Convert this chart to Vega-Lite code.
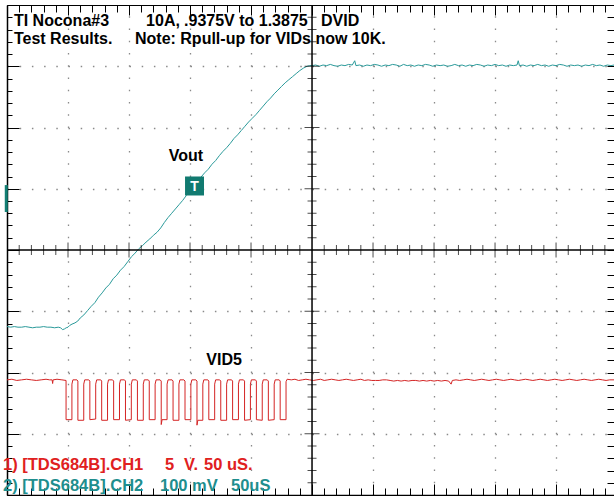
{
"$schema": "https://vega.github.io/schema/vega-lite/v6.json",
"width": 607, "height": 490,
"autosize": {"type": "none"},
"padding": {"left": 7, "top": 5, "right": 0, "bottom": 1},
"background": "white",
"config": {"view": {"stroke": null}, "axis": {"labels": false, "title": null}, "text": {"font": "Liberation Sans", "fontWeight": "bold", "fontSize": 16, "align": "left", "baseline": "alphabetic", "color": "#000"}},
"data": {"values": [{}]},
"datasets": {
"vout": [{"t":-250,"v":-1.25},{"t":-247,"v":-1.26},{"t":-244,"v":-1.25},{"t":-241,"v":-1.26},{"t":-238,"v":-1.26},{"t":-235,"v":-1.25},{"t":-232,"v":-1.26},{"t":-229,"v":-1.27},{"t":-226,"v":-1.26},{"t":-223,"v":-1.26},{"t":-220,"v":-1.25},{"t":-217,"v":-1.26},{"t":-214,"v":-1.26},{"t":-211,"v":-1.27},{"t":-208,"v":-1.26},{"t":-206,"v":-1.27},{"t":-204.5,"v":-1.3},{"t":-203,"v":-1.29},{"t":-201.5,"v":-1.27},{"t":-200,"v":-1.26},{"t":-198.5,"v":-1.23},{"t":-196.7,"v":-1.21},{"t":-194.3,"v":-1.19},{"t":-192,"v":-1.16},{"t":-190,"v":-1.11},{"t":-187,"v":-1.06},{"t":-184,"v":-0.99},{"t":-181,"v":-0.92},{"t":-178,"v":-0.86},{"t":-175,"v":-0.77},{"t":-172,"v":-0.7},{"t":-169,"v":-0.62},{"t":-166,"v":-0.56},{"t":-163,"v":-0.47},{"t":-160,"v":-0.41},{"t":-157,"v":-0.33},{"t":-154,"v":-0.27},{"t":-151,"v":-0.19},{"t":-148,"v":-0.11},{"t":-145,"v":-0.05},{"t":-142,"v":0.02},{"t":-139,"v":0.07},{"t":-136,"v":0.13},{"t":-133,"v":0.18},{"t":-130,"v":0.24},{"t":-127,"v":0.29},{"t":-124,"v":0.36},{"t":-121,"v":0.45},{"t":-118,"v":0.53},{"t":-115,"v":0.6},{"t":-112,"v":0.67},{"t":-109,"v":0.74},{"t":-106,"v":0.81},{"t":-103,"v":0.89},{"t":-100,"v":0.97},{"t":-97,"v":1.03},{"t":-94,"v":1.11},{"t":-91,"v":1.19},{"t":-88,"v":1.26},{"t":-85,"v":1.32},{"t":-82,"v":1.4},{"t":-79,"v":1.46},{"t":-76,"v":1.54},{"t":-73,"v":1.61},{"t":-70,"v":1.67},{"t":-67,"v":1.74},{"t":-64,"v":1.82},{"t":-61,"v":1.88},{"t":-58,"v":1.95},{"t":-55,"v":2.02},{"t":-52,"v":2.09},{"t":-49,"v":2.15},{"t":-46,"v":2.21},{"t":-43,"v":2.28},{"t":-40,"v":2.35},{"t":-37,"v":2.42},{"t":-34,"v":2.48},{"t":-31,"v":2.55},{"t":-28,"v":2.61},{"t":-25,"v":2.67},{"t":-22,"v":2.73},{"t":-19,"v":2.78},{"t":-16,"v":2.83},{"t":-13,"v":2.88},{"t":-10,"v":2.93},{"t":-7,"v":2.97},{"t":-4,"v":3.0},{"t":-2,"v":3.01},{"t":0,"v":3.01},{"t":3,"v":3.02},{"t":6,"v":3.0},{"t":9,"v":3.02},{"t":12,"v":3.01},{"t":15,"v":3.03},{"t":18,"v":3.01},{"t":21,"v":3.0},{"t":24,"v":3.02},{"t":27,"v":3.01},{"t":30,"v":3.03},{"t":33,"v":3.02},{"t":35,"v":3.09},{"t":36,"v":3.01},{"t":39,"v":3.02},{"t":42,"v":3.0},{"t":45,"v":3.02},{"t":48,"v":3.01},{"t":51,"v":3.03},{"t":54,"v":3.02},{"t":57,"v":3.0},{"t":60,"v":3.02},{"t":63,"v":3.01},{"t":66,"v":3.03},{"t":69,"v":3.02},{"t":72,"v":3.0},{"t":75,"v":3.03},{"t":78,"v":3.01},{"t":81,"v":3.02},{"t":84,"v":3.0},{"t":87,"v":3.02},{"t":90,"v":3.01},{"t":93,"v":3.03},{"t":96,"v":3.02},{"t":99,"v":3.0},{"t":102,"v":3.02},{"t":105,"v":3.01},{"t":108,"v":3.02},{"t":111,"v":3.0},{"t":114,"v":3.01},{"t":117,"v":3.03},{"t":120,"v":3.01},{"t":123,"v":3.02},{"t":126,"v":3.0},{"t":129,"v":3.02},{"t":132,"v":3.01},{"t":135,"v":3.03},{"t":138,"v":3.02},{"t":141,"v":3.0},{"t":144,"v":3.02},{"t":147,"v":3.01},{"t":150,"v":3.03},{"t":153,"v":3.01},{"t":156,"v":3.02},{"t":159,"v":3.0},{"t":162,"v":3.02},{"t":165,"v":3.01},{"t":168,"v":3.02},{"t":169,"v":3.09},{"t":170,"v":3.01},{"t":173,"v":3.02},{"t":176,"v":3.0},{"t":179,"v":3.02},{"t":182,"v":3.01},{"t":185,"v":3.03},{"t":188,"v":3.01},{"t":191,"v":3.02},{"t":194,"v":3.0},{"t":197,"v":3.02},{"t":200,"v":3.01},{"t":203,"v":3.03},{"t":206,"v":3.02},{"t":209,"v":3.0},{"t":212,"v":3.02},{"t":215,"v":3.01},{"t":218,"v":3.02},{"t":221,"v":3.0},{"t":224,"v":3.02},{"t":227,"v":3.01},{"t":230,"v":3.03},{"t":233,"v":3.01},{"t":236,"v":3.02},{"t":239,"v":3.0},{"t":242,"v":3.02},{"t":245,"v":3.01},{"t":247.5,"v":3.02}],
"vid": [{"t":-250,"v":-2.12},{"t":-246,"v":-2.11},{"t":-242,"v":-2.13},{"t":-238,"v":-2.12},{"t":-234,"v":-2.11},{"t":-230,"v":-2.12},{"t":-226,"v":-2.13},{"t":-222,"v":-2.12},{"t":-218,"v":-2.11},{"t":-215,"v":-2.12},{"t":-213,"v":-2.12},{"t":-212.6,"v":-2.18},{"t":-212.2,"v":-2.12},{"t":-209,"v":-2.11},{"t":-205,"v":-2.12},{"t":-201.6,"v":-2.13},
{"t":-201.6,"v":-2.77},{"t":-196.8,"v":-2.77},{"t":-196.8,"v":-2.19},{"t":-196.0,"v":-2.12},{"t":-192.7,"v":-2.12},
{"t":-191.9,"v":-2.14},{"t":-191.9,"v":-2.78},{"t":-187.1,"v":-2.78},{"t":-187.1,"v":-2.19},{"t":-186.3,"v":-2.12},{"t":-183.0,"v":-2.12},
{"t":-182.1,"v":-2.14},{"t":-182.1,"v":-2.77},{"t":-177.3,"v":-2.76},{"t":-177.3,"v":-2.19},{"t":-176.5,"v":-2.12},{"t":-173.2,"v":-2.12},
{"t":-172.4,"v":-2.14},{"t":-172.4,"v":-2.78},{"t":-167.6,"v":-2.78},{"t":-167.6,"v":-2.19},{"t":-166.8,"v":-2.12},{"t":-163.5,"v":-2.12},
{"t":-162.6,"v":-2.14},{"t":-162.6,"v":-2.77},{"t":-157.8,"v":-2.77},{"t":-157.8,"v":-2.19},{"t":-157.0,"v":-2.12},{"t":-153.7,"v":-2.12},
{"t":-152.9,"v":-2.14},{"t":-152.9,"v":-2.78},{"t":-148.1,"v":-2.77},{"t":-148.1,"v":-2.19},{"t":-147.3,"v":-2.12},{"t":-144.0,"v":-2.12},
{"t":-143.1,"v":-2.14},{"t":-143.1,"v":-2.78},{"t":-138.3,"v":-2.78},{"t":-138.3,"v":-2.19},{"t":-137.5,"v":-2.12},{"t":-134.2,"v":-2.12},
{"t":-133.4,"v":-2.14},{"t":-133.4,"v":-2.77},{"t":-128.6,"v":-2.77},{"t":-128.6,"v":-2.19},{"t":-127.8,"v":-2.12},{"t":-124.5,"v":-2.12},
{"t":-123.6,"v":-2.14},{"t":-123.6,"v":-2.85},{"t":-122.9,"v":-2.77},{"t":-118.8,"v":-2.77},{"t":-118.8,"v":-2.19},{"t":-118.0,"v":-2.12},{"t":-114.7,"v":-2.12},
{"t":-113.9,"v":-2.14},{"t":-113.9,"v":-2.78},{"t":-109.1,"v":-2.78},{"t":-109.1,"v":-2.19},{"t":-108.3,"v":-2.12},{"t":-105.0,"v":-2.12},
{"t":-104.1,"v":-2.14},{"t":-104.1,"v":-2.77},{"t":-99.3,"v":-2.77},{"t":-99.3,"v":-2.19},{"t":-98.5,"v":-2.12},{"t":-95.2,"v":-2.12},
{"t":-94.3,"v":-2.14},{"t":-94.3,"v":-2.86},{"t":-93.6,"v":-2.78},{"t":-89.5,"v":-2.78},{"t":-89.5,"v":-2.19},{"t":-88.7,"v":-2.12},{"t":-85.4,"v":-2.12},
{"t":-84.6,"v":-2.14},{"t":-84.6,"v":-2.77},{"t":-79.8,"v":-2.77},{"t":-79.8,"v":-2.19},{"t":-79.0,"v":-2.12},{"t":-75.7,"v":-2.12},
{"t":-74.8,"v":-2.14},{"t":-74.8,"v":-2.78},{"t":-70.0,"v":-2.78},{"t":-70.0,"v":-2.19},{"t":-69.2,"v":-2.12},{"t":-65.9,"v":-2.12},
{"t":-65.1,"v":-2.14},{"t":-65.1,"v":-2.77},{"t":-60.3,"v":-2.77},{"t":-60.3,"v":-2.19},{"t":-59.5,"v":-2.12},{"t":-56.2,"v":-2.12},
{"t":-55.3,"v":-2.14},{"t":-55.3,"v":-2.78},{"t":-50.5,"v":-2.77},{"t":-50.5,"v":-2.19},{"t":-49.7,"v":-2.12},{"t":-46.4,"v":-2.12},
{"t":-45.6,"v":-2.14},{"t":-45.6,"v":-2.77},{"t":-40.8,"v":-2.78},{"t":-40.8,"v":-2.19},{"t":-40.0,"v":-2.12},{"t":-36.7,"v":-2.12},
{"t":-35.8,"v":-2.14},{"t":-35.8,"v":-2.78},{"t":-31.0,"v":-2.77},{"t":-31.0,"v":-2.19},{"t":-30.2,"v":-2.12},{"t":-26.9,"v":-2.12},
{"t":-26.1,"v":-2.14},{"t":-26.1,"v":-2.77},{"t":-21.3,"v":-2.77},{"t":-21.3,"v":-2.15},
{"t":-20.4,"v":-2.11},{"t":-17,"v":-2.12},{"t":-14,"v":-2.11},{"t":-11,"v":-2.13},{"t":-8,"v":-2.12},{"t":-5,"v":-2.11},{"t":-2,"v":-2.12},{"t":1,"v":-2.13},{"t":4,"v":-2.12},{"t":7,"v":-2.11},{"t":10,"v":-2.13},{"t":13,"v":-2.12},{"t":16,"v":-2.11},{"t":19,"v":-2.12},{"t":22,"v":-2.13},{"t":25,"v":-2.12},{"t":28,"v":-2.11},{"t":31,"v":-2.12},{"t":34,"v":-2.13},{"t":37,"v":-2.12},{"t":40,"v":-2.11},{"t":43,"v":-2.13},{"t":46,"v":-2.12},{"t":49,"v":-2.13},{"t":52,"v":-2.13},{"t":55,"v":-2.13},{"t":58,"v":-2.12},{"t":61,"v":-2.12},{"t":64,"v":-2.13},{"t":67,"v":-2.14},{"t":70,"v":-2.13},{"t":73,"v":-2.14},{"t":76,"v":-2.13},{"t":79,"v":-2.14},{"t":82,"v":-2.13},{"t":85,"v":-2.13},{"t":88,"v":-2.14},{"t":91,"v":-2.13},{"t":94,"v":-2.14},{"t":97,"v":-2.13},{"t":100,"v":-2.14},{"t":103,"v":-2.13},{"t":106,"v":-2.14},{"t":109,"v":-2.13},{"t":112,"v":-2.14},{"t":114,"v":-2.19},{"t":115,"v":-2.13},{"t":118,"v":-2.12},{"t":121,"v":-2.13},{"t":124,"v":-2.12},{"t":127,"v":-2.11},{"t":130,"v":-2.12},{"t":133,"v":-2.13},{"t":136,"v":-2.12},{"t":139,"v":-2.11},{"t":142,"v":-2.12},{"t":145,"v":-2.13},{"t":148,"v":-2.12},{"t":151,"v":-2.11},{"t":154,"v":-2.12},{"t":157,"v":-2.13},{"t":160,"v":-2.12},{"t":163,"v":-2.11},{"t":166,"v":-2.12},{"t":169,"v":-2.13},{"t":172,"v":-2.12},{"t":175,"v":-2.11},{"t":178,"v":-2.12},{"t":181,"v":-2.13},{"t":184,"v":-2.12},{"t":187,"v":-2.11},{"t":190,"v":-2.12},{"t":193,"v":-2.13},{"t":196,"v":-2.12},{"t":199,"v":-2.11},{"t":202,"v":-2.12},{"t":205,"v":-2.13},{"t":208,"v":-2.12},{"t":211,"v":-2.11},{"t":214,"v":-2.12},{"t":217,"v":-2.13},{"t":220,"v":-2.12},{"t":223,"v":-2.11},{"t":226,"v":-2.12},{"t":229,"v":-2.13},{"t":232,"v":-2.12},{"t":235,"v":-2.11},{"t":238,"v":-2.12},{"t":241,"v":-2.13},{"t":244,"v":-2.12},{"t":247.5,"v":-2.12}],
"hticks": [{"t":-240},{"t":-230},{"t":-220},{"t":-210},{"t":-200},{"t":-190},{"t":-180},{"t":-170},{"t":-160},{"t":-150},{"t":-140},{"t":-130},{"t":-120},{"t":-110},{"t":-100},{"t":-90},{"t":-80},{"t":-70},{"t":-60},{"t":-50},{"t":-40},{"t":-30},{"t":-20},{"t":-10},{"t":10},{"t":20},{"t":30},{"t":40},{"t":50},{"t":60},{"t":70},{"t":80},{"t":90},{"t":100},{"t":110},{"t":120},{"t":130},{"t":140},{"t":150},{"t":160},{"t":170},{"t":180},{"t":190},{"t":200},{"t":210},{"t":220},{"t":230},{"t":240}],
"vticks": [{"v":-3.8},{"v":-3.6},{"v":-3.4},{"v":-3.2},{"v":-3},{"v":-2.8},{"v":-2.6},{"v":-2.4},{"v":-2.2},{"v":-2},{"v":-1.8},{"v":-1.6},{"v":-1.4},{"v":-1.2},{"v":-1},{"v":-0.8},{"v":-0.6},{"v":-0.4},{"v":-0.2},{"v":0.2},{"v":0.4},{"v":0.6},{"v":0.8},{"v":1},{"v":1.2},{"v":1.4},{"v":1.6},{"v":1.8},{"v":2},{"v":2.2},{"v":2.4},{"v":2.6},{"v":2.8},{"v":3},{"v":3.2},{"v":3.4},{"v":3.6},{"v":3.8}]
},
"resolve": {"axis": {"x": "independent", "y": "independent"}},
"layer": [
{"data": {"name": "vout"},
 "mark": {"type": "line", "color": "#2a9a9a", "strokeWidth": 1, "clip": true},
 "encoding": {
  "x": {"field": "t", "type": "quantitative", "scale": {"domain": [-250, 247.5], "nice": false, "zero": false},
    "axis": {"orient": "top", "values": [-250,-240,-230,-220,-210,-200,-190,-180,-170,-160,-150,-140,-130,-120,-110,-100,-90,-80,-70,-60,-50,-40,-30,-20,-10,0,10,20,30,40,50,60,70,80,90,100,110,120,130,140,150,160,170,180,190,200,210,220,230,240],
      "labels": false, "title": null, "domain": true, "domainColor": "#000", "domainWidth": 1, "tickColor": "#000", "tickWidth": 1,
      "tickSize": {"condition": {"test": "datum.value % 50 === 0", "value": -10}, "value": -7},
      "grid": true, "gridColor": "#8a8a8a", "gridWidth": 1.3, "gridDash": [1.5, 10.75],
      "gridOpacity": {"condition": {"test": "datum.value % 50 === 0 && datum.value !== 0 && datum.value !== -250", "value": 1}, "value": 0}}},
  "y": {"field": "v", "type": "quantitative", "scale": {"domain": [-4, 4], "nice": false, "zero": false},
    "axis": {"orient": "left", "values": [-4,-3.8,-3.6,-3.4,-3.2,-3,-2.8,-2.6,-2.4,-2.2,-2,-1.8,-1.6,-1.4,-1.2,-1,-0.8,-0.6,-0.4,-0.2,0,0.2,0.4,0.6,0.8,1,1.2,1.4,1.6,1.8,2,2.2,2.4,2.6,2.8,3,3.2,3.4,3.6,3.8,4],
      "labels": false, "title": null, "domain": true, "domainColor": "#000", "domainWidth": 1.5, "tickColor": "#000", "tickWidth": 1,
      "tickSize": {"condition": {"test": "abs(datum.value - round(datum.value)) < 0.01", "value": -12}, "value": -5},
      "grid": true, "gridColor": "#8a8a8a", "gridWidth": 1.3, "gridDash": [1.5, 10.7],
      "gridOpacity": {"condition": {"test": "abs(datum.value - round(datum.value)) < 0.01 && datum.value !== 0 && abs(datum.value) < 3.9", "value": 1}, "value": 0}}},
  "order": {"value": null}
 }},
{"data": {"name": "vid"},
 "mark": {"type": "line", "color": "#d42424", "strokeWidth": 1, "clip": true},
 "encoding": {
  "x": {"field": "t", "type": "quantitative",
    "axis": {"orient": "bottom", "values": [-250,-240,-230,-220,-210,-200,-190,-180,-170,-160,-150,-140,-130,-120,-110,-100,-90,-80,-70,-60,-50,-40,-30,-20,-10,0,10,20,30,40,50,60,70,80,90,100,110,120,130,140,150,160,170,180,190,200,210,220,230,240],
      "labels": false, "title": null, "domain": true, "domainColor": "#000", "domainWidth": 1.5, "tickColor": "#000", "tickWidth": 1, "grid": false,
      "tickSize": {"condition": {"test": "datum.value % 50 === 0", "value": -11}, "value": -7}}},
  "y": {"field": "v", "type": "quantitative",
    "axis": {"orient": "right", "values": [-3.8,-3.6,-3.4,-3.2,-3,-2.8,-2.6,-2.4,-2.2,-2,-1.8,-1.6,-1.4,-1.2,-1,-0.8,-0.6,-0.4,-0.2,0,0.2,0.4,0.6,0.8,1,1.2,1.4,1.6,1.8,2,2.2,2.4,2.6,2.8,3,3.2,3.4,3.6,3.8],
      "labels": false, "title": null, "domain": false, "tickColor": "#000", "tickWidth": 1, "grid": false, "tickSize": -7}},
  "order": {"value": null}
 }},
{"mark": {"type": "rule", "color": "#000", "strokeWidth": 1.5},
 "encoding": {"x": {"datum": 0, "type": "quantitative", "axis": null}}},
{"mark": {"type": "rule", "color": "#000", "strokeWidth": 1.5},
 "encoding": {"y": {"datum": 0, "type": "quantitative", "axis": null}}},
{"data": {"name": "hticks"},
 "mark": {"type": "tick", "orient": "vertical", "color": "#000", "thickness": 1},
 "encoding": {"x": {"field": "t", "type": "quantitative", "axis": null},
   "y": {"datum": 0, "type": "quantitative", "axis": null},
   "size": {"condition": {"test": "datum.t % 50 === 0", "value": 15}, "value": 10}}},
{"data": {"name": "vticks"},
 "mark": {"type": "tick", "orient": "horizontal", "color": "#000", "thickness": 1},
 "encoding": {"y": {"field": "v", "type": "quantitative", "axis": null},
   "x": {"datum": 0, "type": "quantitative", "axis": null},
   "size": {"condition": {"test": "abs(datum.v - round(datum.v)) < 0.01", "value": 15}, "value": 9}}},
{"mark": {"type": "rule", "color": "#137f74", "strokeWidth": 3},
 "encoding": {"x": {"datum": -250.6, "type": "quantitative", "axis": null},
   "y": {"datum": 0.62, "type": "quantitative", "axis": null}, "y2": {"datum": 1.06}}},
{"mark": {"type": "point", "shape": "square", "filled": true, "size": 361, "color": "#117a70", "opacity": 1},
 "encoding": {"x": {"datum": -96.3, "type": "quantitative", "axis": null}, "y": {"datum": 1.045, "type": "quantitative", "axis": null}}},
{"mark": {"type": "text", "text": "T", "fontSize": 14, "color": "#ffffff", "align": "center", "baseline": "middle", "dy": 1},
 "encoding": {"x": {"datum": -96.3, "type": "quantitative", "axis": null}, "y": {"datum": 1.045, "type": "quantitative", "axis": null}}},
{"mark": {"type": "text", "text": "TI Nocona#3"},
 "encoding": {"x": {"datum": -244.3, "type": "quantitative", "axis": null}, "y": {"datum": 3.657, "type": "quantitative", "axis": null}}},
{"mark": {"type": "text", "text": "10A,"},
 "encoding": {"x": {"datum": -136.0, "type": "quantitative", "axis": null}, "y": {"datum": 3.657, "type": "quantitative", "axis": null}}},
{"mark": {"type": "text", "text": ".9375V to 1.3875"},
 "encoding": {"x": {"datum": -104.9, "type": "quantitative", "axis": null}, "y": {"datum": 3.657, "type": "quantitative", "axis": null}}},
{"mark": {"type": "text", "text": "DVID"},
 "encoding": {"x": {"datum": 7.4, "type": "quantitative", "axis": null}, "y": {"datum": 3.657, "type": "quantitative", "axis": null}}},
{"mark": {"type": "text", "text": "Test Results."},
 "encoding": {"x": {"datum": -244.3, "type": "quantitative", "axis": null}, "y": {"datum": 3.363, "type": "quantitative", "axis": null}}},
{"mark": {"type": "text", "text": "Note: Rpull-up for VIDs now 10K."},
 "encoding": {"x": {"datum": -145.1, "type": "quantitative", "axis": null}, "y": {"datum": 3.363, "type": "quantitative", "axis": null}}},
{"mark": {"type": "text", "text": "Vout", "align": "center"},
 "encoding": {"x": {"datum": -103.3, "type": "quantitative", "axis": null}, "y": {"datum": 1.453, "type": "quantitative", "axis": null}}},
{"mark": {"type": "text", "text": "VID5", "align": "center"},
 "encoding": {"x": {"datum": -72.1, "type": "quantitative", "axis": null}, "y": {"datum": -1.878, "type": "quantitative", "axis": null}}},
{"mark": {"type": "text", "text": "1) [TDS684B].CH1", "color": "#e02020", "fontSize": 16.5},
 "encoding": {"x": {"datum": -253.3, "type": "quantitative", "axis": null}, "y": {"datum": -3.592, "type": "quantitative", "axis": null}}},
{"mark": {"type": "text", "text": "5", "color": "#e02020", "fontSize": 16.5},
 "encoding": {"x": {"datum": -120.5, "type": "quantitative", "axis": null}, "y": {"datum": -3.592, "type": "quantitative", "axis": null}}},
{"mark": {"type": "text", "text": "V.", "color": "#e02020", "fontSize": 16.5},
 "encoding": {"x": {"datum": -104.9, "type": "quantitative", "axis": null}, "y": {"datum": -3.592, "type": "quantitative", "axis": null}}},
{"mark": {"type": "text", "text": "50 uS.", "color": "#e02020", "fontSize": 16.5},
 "encoding": {"x": {"datum": -88.5, "type": "quantitative", "axis": null}, "y": {"datum": -3.592, "type": "quantitative", "axis": null}}},
{"mark": {"type": "text", "text": "2) [TDS684B].CH2", "color": "#1e8e8e", "fontSize": 16.5},
 "encoding": {"x": {"datum": -253.3, "type": "quantitative", "axis": null}, "y": {"datum": -3.935, "type": "quantitative", "axis": null}}},
{"mark": {"type": "text", "text": "100 mV", "color": "#1e8e8e", "fontSize": 16.5},
 "encoding": {"x": {"datum": -124.6, "type": "quantitative", "axis": null}, "y": {"datum": -3.935, "type": "quantitative", "axis": null}}},
{"mark": {"type": "text", "text": "50uS", "color": "#1e8e8e", "fontSize": 16.5},
 "encoding": {"x": {"datum": -66.4, "type": "quantitative", "axis": null}, "y": {"datum": -3.935, "type": "quantitative", "axis": null}}}
]
}
